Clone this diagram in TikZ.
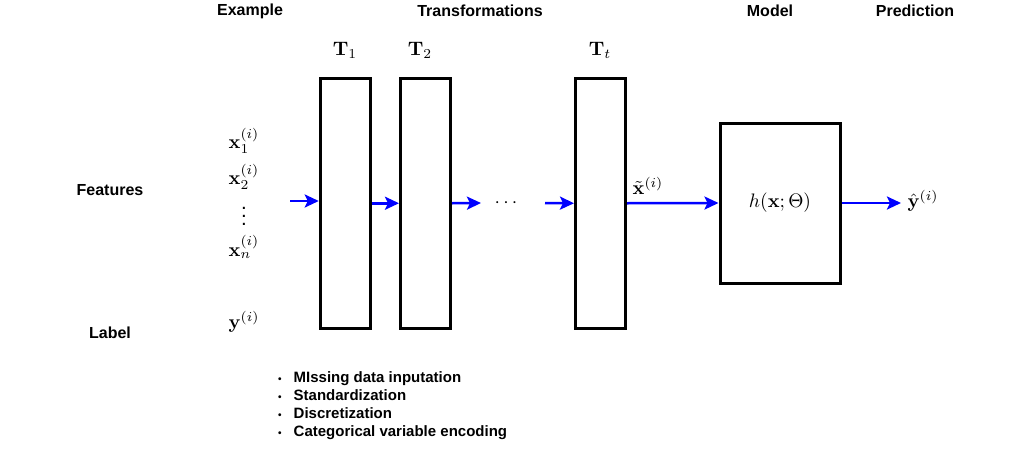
\documentclass[tikz,border=0pt]{standalone}
\usepackage[no-math]{fontspec}
\setmainfont{Liberation Sans}
\usepackage{graphicx}
\usetikzlibrary{arrows.meta}
\newcommand{\bm}[1]{\scalebox{1.95}{$#1$}}
\begin{document}
\begin{tikzpicture}[x=1pt,y=-1pt,
  lbl/.style={font=\fontsize{16}{18}\selectfont\bfseries, inner sep=0pt},
  lst/.style={font=\fontsize{15}{18}\selectfont\bfseries, inner sep=0pt},
  mth/.style={inner sep=0pt},
  tbox/.style={draw=black, line width=3pt, minimum width=50pt, minimum height=250pt, inner sep=0pt},
  mbox/.style={draw=black, line width=3pt, minimum width=120pt, minimum height=160pt, inner sep=0pt},
  flow/.style={draw=blue, line width=2.5pt, -{Stealth[length=14pt,width=13pt,inset=3pt]}}
]
\useasboundingbox (0,0) rectangle (1021,453);
% headers
\node[lbl] (ex) at (250,11) {Example};
\node[lbl] (tr) at (480,11) {Transformations};
\node[lbl] (mo) at (770,11) {Model};
\node[lbl] (pr) at (915,11) {Prediction};
\node[lbl] (fe) at (110,190) {Features};
\node[lbl] (la) at (110,333) {Label};
% boxes
\node[tbox] (T1) at (345.25,203.25) {};
\node[tbox] (T2) at (425.5,203.25) {};
\node[tbox] (Tt) at (600.5,203.25) {};
\node[mbox] (M) at (780,203) {\bm{h(\mathbf{x};\Theta)}};
% box labels
\node[mth] (t1l) at (345,50) {\bm{\mathbf{T}_1}};
\node[mth] (t2l) at (420,50) {\bm{\mathbf{T}_2}};
\node[mth] (ttl) at (600,50) {\bm{\mathbf{T}_t}};
% example features
\node[mth] (x1) at (244,141) {\bm{\mathbf{x}_1^{(i)}}};
\node[mth] (x2) at (244,177) {\bm{\mathbf{x}_2^{(i)}}};
\node[mth, anchor=base] (xd) at (244,225.5) {\smash{\scalebox{2.05}{$\vdots$}}};
\node[mth] (xn) at (244,247) {\bm{\mathbf{x}_n^{(i)}}};
\node[mth] (yy) at (244,322) {\bm{\mathbf{y}^{(i)}}};
% arrows
\coordinate (s0) at (290,201);
\draw[flow] (s0) -- (T1.west |- s0);
\draw[flow] (T1.east) -- (T2.west);
\coordinate (e2) at (481,203);
\draw[flow] (T2.east) -- (e2);
\node[mth] (dots) at (506,203) {\bm{\cdots}};
\coordinate (s3) at (545,203);
\draw[flow] (s3) -- (Tt.west);
\draw[flow] (Tt.east) -- (M.west);
\node[mth] (xt) at (648,186) {\bm{\tilde{\mathbf{x}}^{(i)}}};
\coordinate (e5) at (901,203);
\draw[flow] (M.east) -- (e5);
\node[mth] (yh) at (923,201) {\bm{\hat{\mathbf{y}}^{(i)}}};
% bullet list
\node[lst, anchor=north west, align=left] (bl) at (278,370) {%
\begin{tabular}{@{}l@{\hspace{12pt}}l@{}}
{\fontsize{10}{18}\selectfont\textbullet} & MIssing data inputation\\
{\fontsize{10}{18}\selectfont\textbullet} & Standardization\\
{\fontsize{10}{18}\selectfont\textbullet} & Discretization\\
{\fontsize{10}{18}\selectfont\textbullet} & Categorical variable encoding
\end{tabular}};
\end{tikzpicture}
\end{document}
